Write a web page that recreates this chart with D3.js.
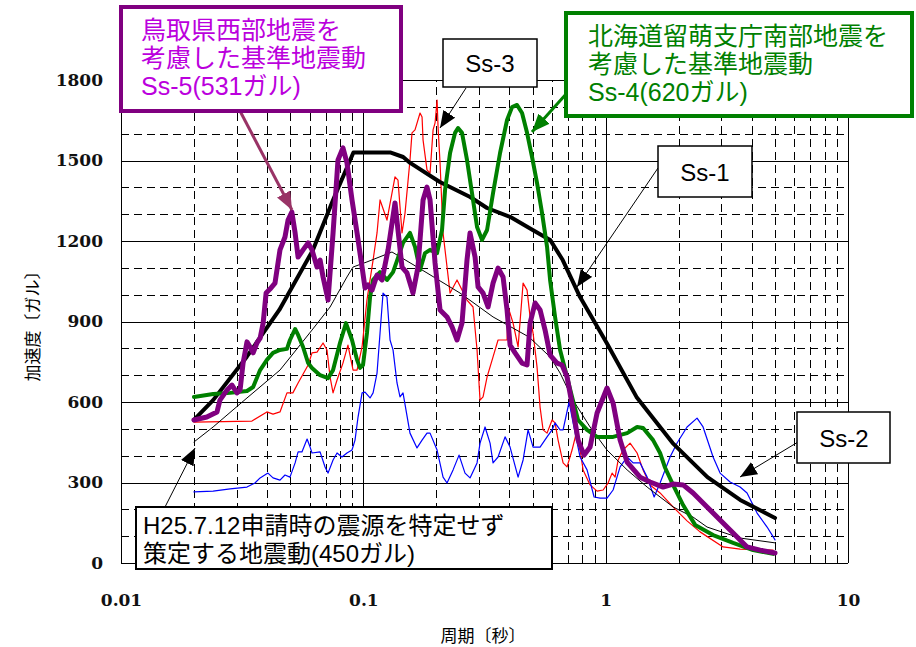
<!DOCTYPE html>
<html>
<head>
<meta charset="utf-8">
<script src="https://cdn.jsdelivr.net/npm/d3@7"></script>
<style>
  body { margin: 0; background: #fff; }
  svg  { display: block; }
</style>
</head>
<body>
<svg id="chart" width="916" height="647"></svg>
<script>
// MARK: Data. [period (s), acceleration (gal)]

const yTicks = [0, 300, 600, 900, 1200, 1500, 1800]
const xTicks = [0.01, 0.1, 1, 10]

// Ss-1 (design spectrum, thick black)
const ss1 = [
  [0.02, 533], [0.024, 607], [0.033, 768], [0.045, 943], [0.062, 1167], [0.075, 1353],
  [0.091, 1530], [0.129, 1530], [0.146, 1513], [0.156, 1491], [0.207, 1420], [0.276, 1364],
  [0.324, 1323], [0.403, 1290], [0.50, 1241], [0.59, 1204], [0.665, 1129], [0.784, 991],
  [1.01, 820], [1.34, 619], [1.89, 447], [2.63, 320], [3.59, 235], [5.0, 168],
]

// H25.7.12 source-unspecified motion (thin black)
const h25 = [
  [0.02, 451], [0.024, 507], [0.0331, 615], [0.0453, 719], [0.0614, 868], [0.0729, 954],
  [0.0856, 1066], [0.0907, 1103], [0.1035, 1122], [0.1313, 1159], [0.1831, 1081], [0.2506, 1006],
  [0.343, 917], [0.483, 842], [0.5897, 768], [0.6485, 708], [0.734, 607], [0.862, 507],
  [1.013, 421], [1.226, 347], [1.483, 283], [1.897, 209], [2.295, 171], [2.621, 134],
  [3.587, 93], [5.0, 75],
]

// Ss-3 (red)
const ss3 = [
  [0.02, 525], [0.0347, 529], [0.0400, 563], [0.0424, 555], [0.0453, 563], [0.0484, 634],
  [0.0512, 634], [0.0538, 671], [0.0592, 738], [0.0614, 783], [0.0644, 786], [0.0682, 820],
  [0.0708, 794], [0.0729, 693], [0.075, 634], [0.0779, 682], [0.0824, 745], [0.0864, 812],
  [0.0907, 719], [0.0942, 719], [0.0988, 805], [0.1035, 980], [0.1097, 1129], [0.1139, 1230],
  [0.1172, 1353], [0.1252, 1278], [0.1351, 1439], [0.139, 1427], [0.1444, 1230], [0.1486, 1304],
  [0.1558, 1502], [0.1588, 1603], [0.1634, 1614], [0.1714, 1677], [0.1747, 1662], [0.1764, 1576],
  [0.1831, 1465], [0.1885, 1453], [0.194, 1614], [0.1977, 1640], [0.2015, 1725], [0.2034, 1625],
  [0.2073, 1491], [0.2133, 1230], [0.228, 1006], [0.2436, 1055], [0.2678, 980], [0.2836, 954],
  [0.2946, 794], [0.3031, 607], [0.3119, 619], [0.324, 693], [0.343, 768], [0.3597, 831],
  [0.3918, 831], [0.3957, 954], [0.4149, 894], [0.4351, 805], [0.4563, 1043], [0.4738, 1017],
  [0.4876, 917], [0.5017, 857], [0.521, 730], [0.5362, 581], [0.5517, 496], [0.573, 484],
  [0.601, 533], [0.6184, 522], [0.6363, 458], [0.6673, 373], [0.693, 358], [0.7267, 421],
  [0.762, 496], [0.7842, 421], [0.807, 347], [0.8624, 291], [0.9216, 268], [0.976, 272],
  [1.023, 298], [1.063, 335], [1.094, 320], [1.126, 384], [1.18, 421], [1.261, 447],
  [1.348, 410], [1.427, 347], [1.525, 291], [1.677, 261], [1.897, 209], [2.167, 157],
  [2.452, 116], [3.052, 60], [3.587, 52], [4.91, 48],
]

// Ss-2 (blue)
const ss2 = [
  [0.02, 265], [0.024, 268], [0.0282, 276], [0.0331, 283], [0.0357, 298], [0.0375, 317],
  [0.0404, 335], [0.0424, 317], [0.0453, 309], [0.0475, 328], [0.0498, 320], [0.0523, 373],
  [0.0538, 414], [0.0558, 414], [0.0586, 462], [0.0603, 432], [0.0614, 410], [0.0663, 414],
  [0.0695, 358], [0.0715, 335], [0.075, 384], [0.0779, 410], [0.0816, 395], [0.0856, 410],
  [0.0898, 421], [0.0924, 458], [0.0951, 544], [0.0988, 634], [0.1016, 637], [0.1066, 615],
  [0.1097, 634], [0.1139, 708], [0.1172, 857], [0.1206, 1006], [0.1252, 991], [0.1289, 831],
  [0.1326, 794], [0.1377, 671], [0.1417, 619], [0.1458, 634], [0.1558, 484], [0.1665, 429],
  [0.1747, 458], [0.1831, 484], [0.1885, 484], [0.2015, 421], [0.2133, 320], [0.2215, 298],
  [0.2346, 347], [0.2483, 402], [0.2628, 335], [0.2756, 317], [0.2946, 373], [0.3031, 447],
  [0.3179, 507], [0.3334, 447], [0.343, 373], [0.3597, 395], [0.3845, 470], [0.4032, 432],
  [0.4351, 320], [0.4563, 384], [0.4785, 496], [0.5017, 432], [0.5362, 432], [0.573, 470],
  [0.601, 496], [0.6184, 522], [0.6485, 496], [0.6673, 496], [0.7065, 600], [0.734, 522],
  [0.7842, 395], [0.838, 347], [0.896, 246], [0.9484, 242], [1.013, 242], [1.073, 272],
  [1.147, 358], [1.226, 395], [1.298, 373], [1.387, 373], [1.483, 320], [1.585, 246],
  [1.677, 298], [1.844, 395], [1.971, 447], [2.167, 507], [2.383, 540], [2.523, 507],
  [2.775, 395], [2.966, 335], [3.262, 302], [3.587, 283], [3.832, 261], [4.215, 186],
  [4.636, 134], [5.0, 86],
]

// Ss-4 (green)
const ss4 = [
  [0.02, 619], [0.024, 630], [0.0282, 634], [0.0331, 641], [0.0351, 656], [0.0375, 719],
  [0.040, 757], [0.0424, 783], [0.0453, 794], [0.0484, 798], [0.0498, 831], [0.0523, 872],
  [0.0538, 850], [0.0564, 805], [0.0592, 745], [0.0614, 727], [0.0663, 700], [0.0715, 689],
  [0.075, 719], [0.0801, 820], [0.0848, 894], [0.0898, 831], [0.0942, 757], [0.0969, 727],
  [0.0997, 738], [0.1035, 857], [0.1066, 991], [0.1097, 1055], [0.1172, 1084], [0.1252, 1055],
  [0.1326, 1084], [0.139, 1137], [0.1458, 1193], [0.1558, 1230], [0.1634, 1178], [0.1714, 1092],
  [0.1797, 1155], [0.1885, 1167], [0.2015, 1155], [0.2112, 1241], [0.2174, 1390], [0.228, 1528],
  [0.239, 1603], [0.2459, 1621], [0.2554, 1603], [0.2678, 1502], [0.2808, 1379], [0.2946, 1252],
  [0.3089, 1204], [0.324, 1241], [0.343, 1379], [0.3666, 1528], [0.3918, 1651], [0.4109, 1699],
  [0.4308, 1707], [0.4518, 1677], [0.4738, 1603], [0.4969, 1513], [0.521, 1416], [0.5464, 1304],
  [0.573, 1178], [0.5897, 1055], [0.6184, 917], [0.6485, 794], [0.693, 693], [0.7267, 619],
  [0.7695, 533], [0.838, 496], [0.9216, 470], [1.073, 470], [1.226, 484], [1.348, 507],
  [1.427, 503], [1.569, 458], [1.677, 410], [1.759, 355], [1.897, 291], [2.087, 216],
  [2.339, 142], [2.775, 104], [3.357, 75], [4.058, 48], [4.91, 34],
]

// Ss-5 (purple)
const ss5 = [
  [0.02, 533], [0.0226, 544], [0.0249, 563], [0.0256, 607], [0.0274, 645], [0.0287, 663],
  [0.0301, 634], [0.031, 645], [0.0319, 745], [0.0331, 824], [0.0341, 805], [0.0351, 783],
  [0.0364, 820], [0.0375, 838], [0.0386, 894], [0.0397, 1006], [0.0412, 1021], [0.0432, 1043],
  [0.0453, 1167], [0.0475, 1215], [0.0489, 1278], [0.0507, 1308], [0.0523, 1230], [0.0538, 1140],
  [0.0564, 1167], [0.0592, 1193], [0.0614, 1167], [0.0644, 1103], [0.0663, 1129], [0.0682, 1066],
  [0.0715, 980], [0.075, 1230], [0.0786, 1502], [0.0824, 1547], [0.0856, 1491], [0.0898, 1353],
  [0.0942, 1230], [0.0988, 1103], [0.1016, 1025], [0.1045, 1036], [0.1086, 1017], [0.1139, 1073],
  [0.1194, 1055], [0.1265, 1167], [0.1351, 1342], [0.139, 1241], [0.1444, 1103], [0.1514, 1081],
  [0.1603, 1006], [0.1681, 1103], [0.1764, 1353], [0.1831, 1401], [0.1885, 1353], [0.1977, 1118],
  [0.2073, 943], [0.2215, 917], [0.2323, 880], [0.2436, 831], [0.2554, 894], [0.2678, 1129],
  [0.2756, 1230], [0.2891, 1140], [0.2975, 1029], [0.3119, 1006], [0.3271, 954], [0.343, 1043],
  [0.3597, 1099], [0.3772, 1066], [0.3918, 943], [0.4032, 812], [0.4228, 783], [0.4518, 745],
  [0.4738, 738], [0.4876, 894], [0.5113, 969], [0.5362, 943], [0.5623, 868], [0.5897, 775],
  [0.6302, 745], [0.6608, 738], [0.693, 693], [0.734, 570], [0.7695, 458], [0.8148, 402],
  [0.8624, 432], [0.9216, 559], [1.013, 652], [1.073, 596], [1.147, 458], [1.226, 376],
  [1.387, 320], [1.525, 302], [1.726, 283], [1.897, 294], [2.087, 291], [2.295, 261],
  [2.621, 209], [2.966, 160], [3.357, 112], [3.832, 60], [4.338, 48], [5.0, 37],
]

// MARK: Layout.

const svg = d3.select('#chart')
const x = d3.scaleLog().domain([0.01, 10]).range([121, 848])
const y = d3.scaleLinear().domain([0, 1800]).range([563, 80])

const TICK_FONT = 'DejaVu Serif'
// Latin font first keeps the text boxes' line height compact; kana and kanji fall back to Noto CJK.
const JP_FONT   = '"Liberation Sans", "Noto Sans CJK JP", sans-serif'

// Grid. Solid at decades and at every 300 gal, dashed elsewhere.
const grid = svg.append('g').attr('shape-rendering', 'crispEdges')
grid.selectAll('line.h')
  .data(d3.range(0, 1801, 100)).enter()
  .append('line')
  .attr('x1', x(0.01)).attr('x2', x(10))
  .attr('y1', (d) => Math.round(y(d)) + 0.5)
  .attr('y2', (d) => Math.round(y(d)) + 0.5)
  .attr('stroke', '#000')
  .attr('stroke-dasharray', (d) => d % 300 ? '8,5' : null)

const isDecade = (d) => Math.abs(Math.log10(d) - Math.round(Math.log10(d))) < 1e-6
grid.selectAll('line.v')
  .data(x.ticks()).enter()
  .append('line')
  .attr('x1', (d) => Math.round(x(d)) + 0.5)
  .attr('x2', (d) => Math.round(x(d)) + 0.5)
  .attr('y1', y(0)).attr('y2', y(1800))
  .attr('stroke', '#000')
  .attr('stroke-dasharray', (d) => isDecade(d) ? null : '8,5')

// Axes (labels only, frame drawn by the grid).
const yAxis = svg.append('g')
  .attr('transform', `translate(${x(0.01)},0)`)
  .call(d3.axisLeft(y).tickValues(yTicks).tickSize(0).tickPadding(18).tickFormat(d3.format('d')))
const xAxis = svg.append('g')
  .attr('transform', `translate(0,${y(0)})`)
  .call(d3.axisBottom(x).tickValues(xTicks).tickSize(0).tickPadding(31).tickFormat((d) => String(d)))
for (const ax of [yAxis, xAxis]) {
  ax.select('.domain').remove()
  ax.selectAll('text')
    .attr('font-family', TICK_FONT)
    .attr('font-weight', 'bold')
    .attr('font-size', 17)
    .attr('fill', '#111')
}

svg.append('text')
  .attr('x', 483).attr('y', 642)
  .attr('text-anchor', 'middle')
  .attr('font-family', JP_FONT).attr('font-size', 17)
  .text('周期〔秒〕')
svg.append('text')
  .attr('transform', 'translate(39,322) rotate(-90)')
  .attr('text-anchor', 'middle')
  .attr('font-family', JP_FONT).attr('font-size', 17)
  .text('加速度〔ガル〕')

// MARK: Spectra.

const line = d3.line().x((d) => x(d[0])).y((d) => y(d[1]))
const series = [
  { data: ss3, color: '#ff0000', width: 1.2 },
  { data: ss2, color: '#0000ff', width: 1.2 },
  { data: h25, color: '#000000', width: 1 },
  { data: ss1, color: '#000000', width: 4 },
  { data: ss4, color: '#008000', width: 4 },
  { data: ss5, color: '#800080', width: 5 },
]
svg.append('g').selectAll('path')
  .data(series).enter()
  .append('path')
  .attr('d', (s) => line(s.data))
  .attr('fill', 'none')
  .attr('stroke', (s) => s.color)
  .attr('stroke-width', (s) => s.width)
  .attr('stroke-linejoin', 'round')
  .attr('stroke-linecap', 'round')

// MARK: Annotations.

const defs = svg.append('defs')
function marker(id, color, len, wid) {
  defs.append('marker')
    .attr('id', id)
    .attr('markerUnits', 'userSpaceOnUse')
    .attr('markerWidth', len).attr('markerHeight', wid)
    .attr('refX', len).attr('refY', wid / 2)
    .attr('orient', 'auto')
    .append('path')
    .attr('d', `M0,0 L${len},${wid / 2} L0,${wid} z`)
    .attr('fill', color)
}
marker('head-black', '#000', 17, 14)
marker('head-green', '#008000', 18, 15)
marker('head-purple', '#993366', 18, 15)

const arrows = [
  { from: [466, 88],  to: [440, 128], color: '#000',    width: 1,   head: 'head-black' },
  { from: [567, 93],  to: [532, 132], color: '#008000', width: 3,   head: 'head-green' },
  { from: [240, 111], to: [292, 210], color: '#993366', width: 3,   head: 'head-purple' },
  { from: [658, 168], to: [577, 287], color: '#000',    width: 1,   head: 'head-black' },
  { from: [798, 442], to: [740, 477], color: '#000',    width: 1,   head: 'head-black' },
  { from: [165, 507], to: [195, 448], color: '#000',    width: 1,   head: 'head-black' },
]
svg.append('g').selectAll('line')
  .data(arrows).enter()
  .append('line')
  .attr('x1', (a) => a.from[0]).attr('y1', (a) => a.from[1])
  .attr('x2', (a) => a.to[0]).attr('y2', (a) => a.to[1])
  .attr('stroke', (a) => a.color)
  .attr('stroke-width', (a) => a.width)
  .attr('marker-end', (a) => `url(#${a.head})`)

const boxes = [
  { x: 121, y: 7,   w: 280, h: 104, stroke: '#800080', sw: 4, color: '#bb00dd', size: 25,
    anchor: 'start', tx: 141, lines: [['鳥取県西部地震を', 39], ['考慮した基準地震動', 67], ['Ss-5(531ガル)', 95]] },
  { x: 566, y: 13,  w: 346, h: 103, stroke: '#008000', sw: 4, color: '#008000', size: 25,
    anchor: 'start', tx: 588, lines: [['北海道留萌支庁南部地震を', 45], ['考慮した基準地震動', 73], ['Ss-4(620ガル)', 101]] },
  { x: 443, y: 39,  w: 94,  h: 48,  stroke: '#000', sw: 1.5, color: '#000', size: 24,
    anchor: 'middle', tx: 490, lines: [['Ss-3', 72]] },
  { x: 658, y: 146, w: 94,  h: 51,  stroke: '#000', sw: 1.5, color: '#000', size: 24,
    anchor: 'middle', tx: 705, lines: [['Ss-1', 181]] },
  { x: 797, y: 412, w: 93,  h: 51,  stroke: '#000', sw: 1.5, color: '#000', size: 24,
    anchor: 'middle', tx: 844, lines: [['Ss-2', 447]] },
  { x: 136, y: 507, w: 416, h: 62,  stroke: '#000', sw: 2, color: '#000', size: 24,
    anchor: 'start', tx: 143, lines: [['H25.7.12申請時の震源を特定せず', 534], ['策定する地震動(450ガル)', 562]] },
]
const boxG = svg.append('g').selectAll('g')
  .data(boxes).enter()
  .append('g')
boxG.append('rect')
  .attr('x', (b) => b.x).attr('y', (b) => b.y)
  .attr('width', (b) => b.w).attr('height', (b) => b.h)
  .attr('fill', '#fff')
  .attr('stroke', (b) => b.stroke)
  .attr('stroke-width', (b) => b.sw)
boxG.each(function (b) {
  d3.select(this).selectAll('text')
    .data(b.lines).enter()
    .append('text')
    .attr('x', b.tx).attr('y', (l) => l[1])
    .attr('text-anchor', b.anchor)
    .attr('font-family', JP_FONT)
    .attr('font-size', b.size)
    .attr('fill', b.color)
    .text((l) => l[0])
})
</script>
</body>
</html>
